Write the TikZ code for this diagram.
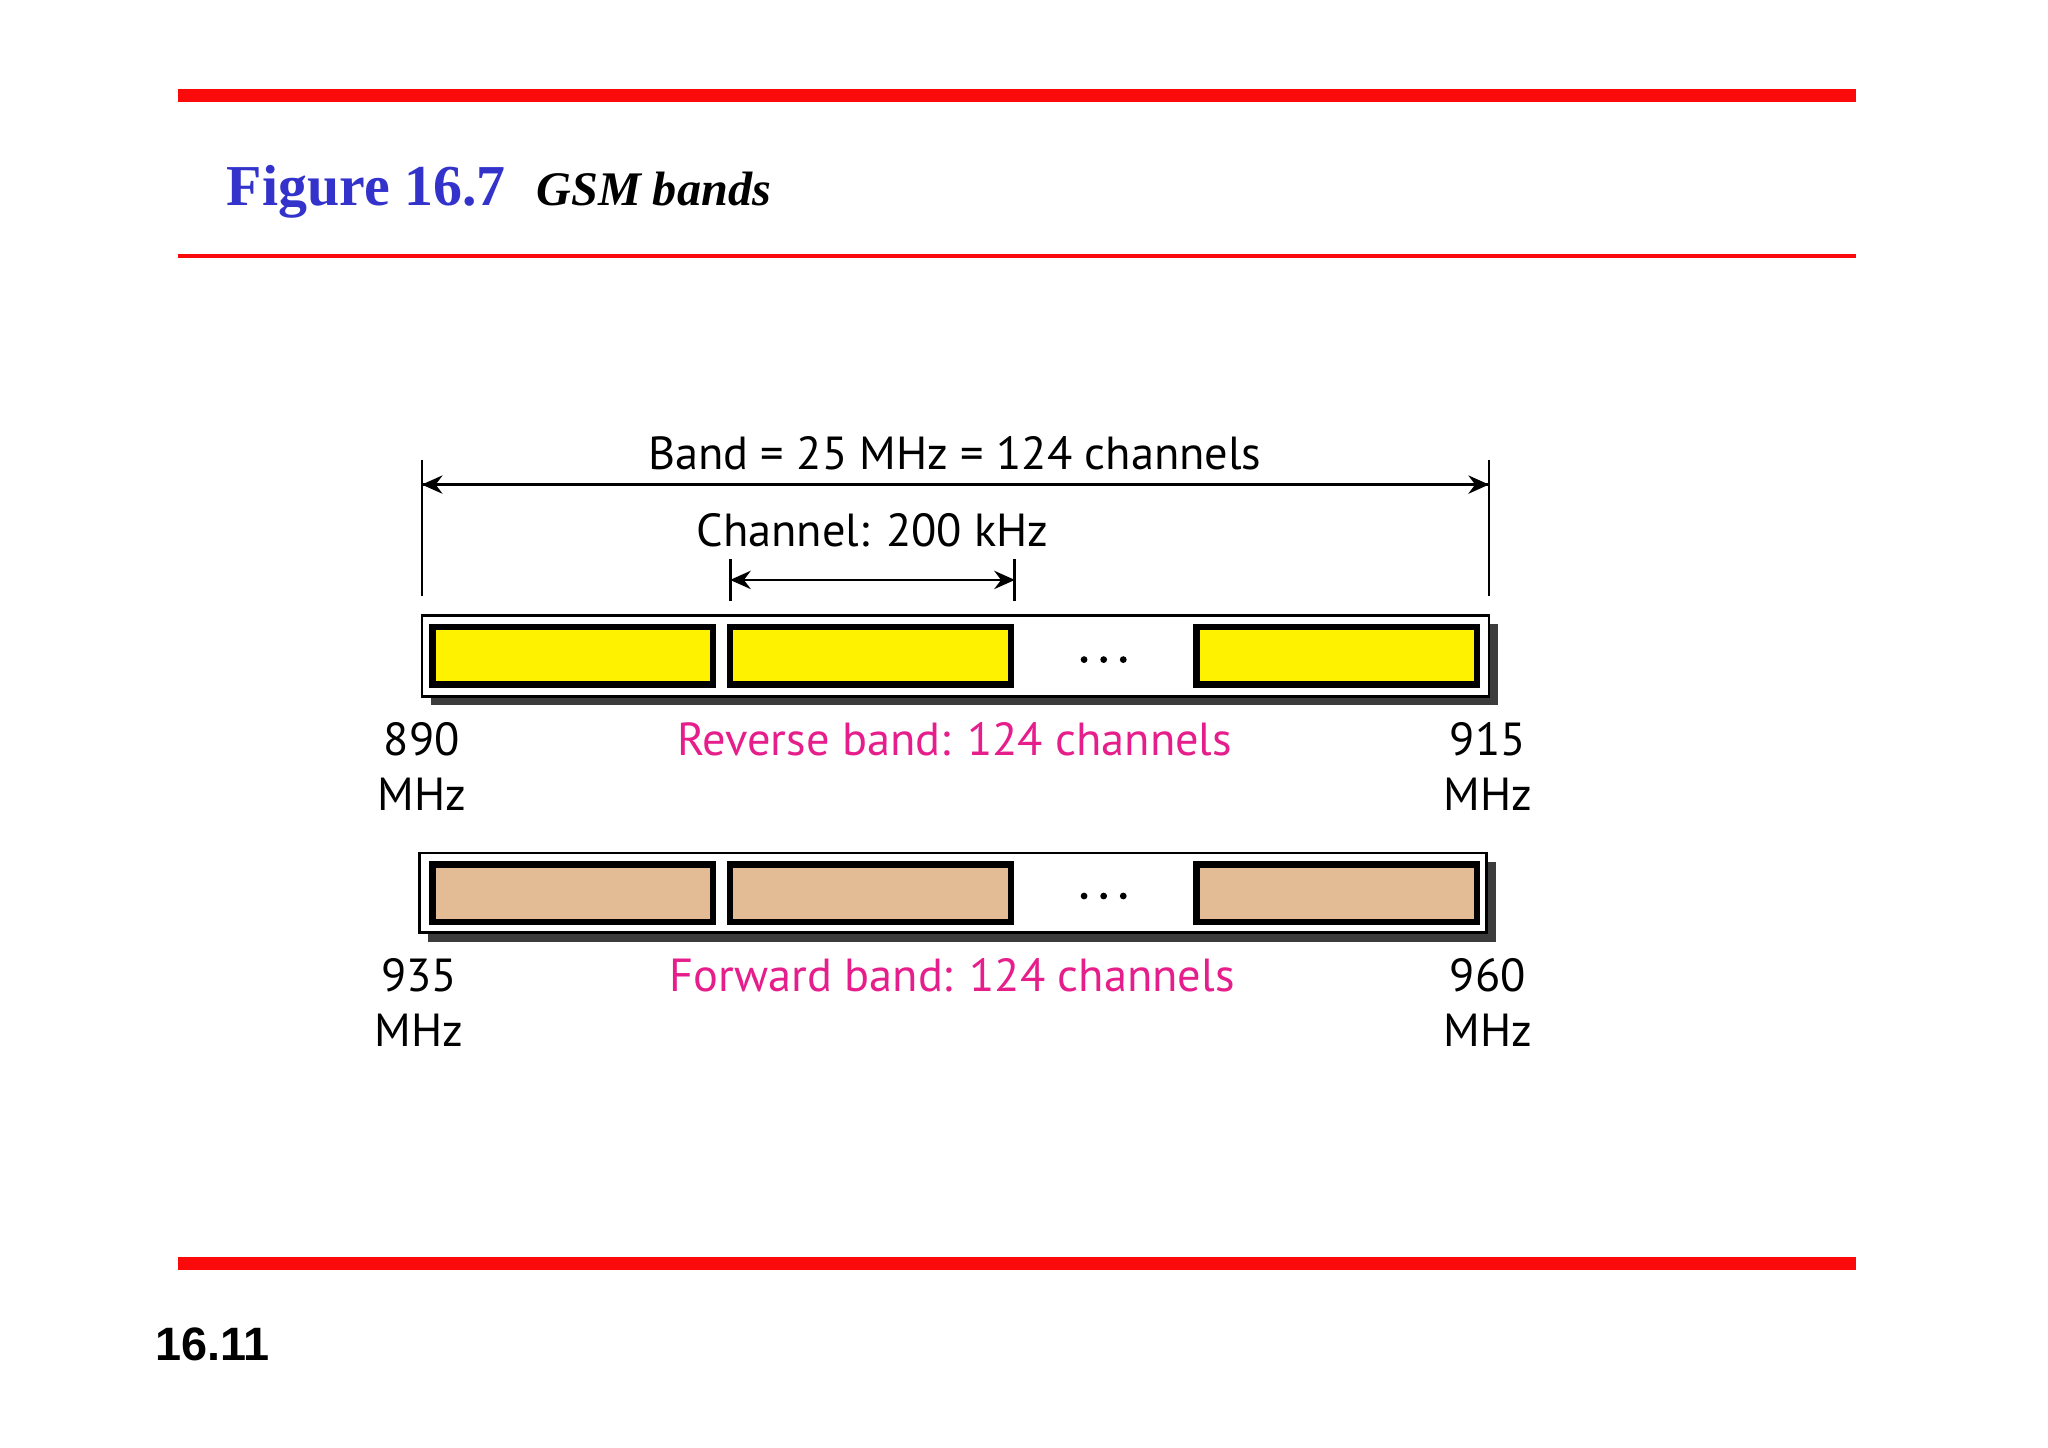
\documentclass[tikz,border=0pt]{standalone}
\usepackage{fontspec}
\setmainfont{Liberation Serif}
\newfontfamily\diag{PT Sans}
\newfontfamily\arial{Liberation Sans}
\usetikzlibrary{arrows.meta}
\definecolor{figblue}{RGB}{51,51,204}
\definecolor{bandred}{RGB}{250,10,10}
\definecolor{mag}{RGB}{230,30,140}
\definecolor{tan}{RGB}{227,188,150}
\definecolor{shadowg}{RGB}{60,60,60}
\begin{document}
\begin{tikzpicture}[x=0.01cm,y=-0.01cm,
  lbl/.style={font=\diag\fontsize{10.1}{12}\selectfont, inner sep=0pt},
  maglbl/.style={lbl, text=mag},
  chan/.style={draw=black, line width=1.4pt},
  outer/.style={draw=black, line width=0.6pt, fill=white},
  dim/.style={line width=0.5pt, -{Stealth[length=4.5pt,width=4pt,inset=1.5pt]}},
  tick/.style={line width=0.6pt},
  dotc/.style={fill=black}]
\useasboundingbox (0,0) rectangle (1568,1108);
% header
\fill[bandred] (136,68) rectangle (1421,78);
\fill[bandred] (136,194.5) rectangle (1421,197.5);
\fill[bandred] (136,962) rectangle (1421,972);
\node[anchor=base west, inner sep=0pt, text=figblue, font=\bfseries\fontsize{12.6}{15}\selectfont] (fig) at (173,157) {Figure 16.7};
\node[anchor=base west, inner sep=0pt, font=\bfseries\itshape\fontsize{10.5}{12}\selectfont] (ttl) at (410,157) {GSM bands};
\node[anchor=base west, inner sep=0pt, font=\arial\bfseries\fontsize{10.2}{12}\selectfont] (pg) at (118,1042) {16.11};
% dimension lines
\coordinate (bl1) at (323,352); \coordinate (bl2) at (323,456);
\coordinate (br1) at (1140,352); \coordinate (br2) at (1140,456);
\draw[tick] (bl1) -- (bl2); \draw[tick] (br1) -- (br2);
\coordinate (ba) at (323,371); \coordinate (bb) at (1140,371);
\draw[dim] (ba) -- (bb); \draw[dim] (bb) -- (ba);
\node[lbl] (bandlbl) at (731,347) {Band = 25 MHz = 124 channels};
\coordinate (cl1) at (559,428); \coordinate (cl2) at (559,460);
\coordinate (cr1) at (777,428); \coordinate (cr2) at (777,460);
\draw[tick] (cl1) -- (cl2); \draw[tick] (cr1) -- (cr2);
\coordinate (ca) at (559,444); \coordinate (cb) at (777,444);
\draw[dim] (ca) -- (cb); \draw[dim] (cb) -- (ca);
\node[lbl] (chlbl) at (668,406) {Channel: 200 kHz};
% reverse band
\fill[shadowg] (330,478) rectangle (1147,540);
\draw[outer] (323,471) rectangle (1140,533);
\draw[chan, fill=yellow] (331,480) rectangle (546,524);
\draw[chan, fill=yellow] (559,480) rectangle (774,524);
\draw[chan, fill=yellow] (916,480) rectangle (1131,524);
\foreach \x in {830,845,860} \fill[dotc] (\x,505) circle (2.6);
\node[lbl] (r1) at (323,566) {890};
\node[lbl] (r2) at (323,608) {MHz};
\node[lbl] (r3) at (1139,566) {915};
\node[lbl] (r4) at (1139,608) {MHz};
\node[maglbl] (rev) at (731,566) {Reverse band: 124 channels};
% forward band
\fill[shadowg] (328,660) rectangle (1145,721);
\draw[outer] (321,653) rectangle (1138,714);
\draw[chan, fill=tan] (331,662) rectangle (546,706);
\draw[chan, fill=tan] (559,662) rectangle (774,706);
\draw[chan, fill=tan] (916,662) rectangle (1131,706);
\foreach \x in {830,845,860} \fill[dotc] (\x,686) circle (2.6);
\node[lbl] (f1) at (321,747) {935};
\node[lbl] (f2) at (321,789) {MHz};
\node[lbl] (f3) at (1139,747) {960};
\node[lbl] (f4) at (1139,789) {MHz};
\node[maglbl] (fwd) at (729,747) {Forward band: 124 channels};
\end{tikzpicture}
\end{document}
